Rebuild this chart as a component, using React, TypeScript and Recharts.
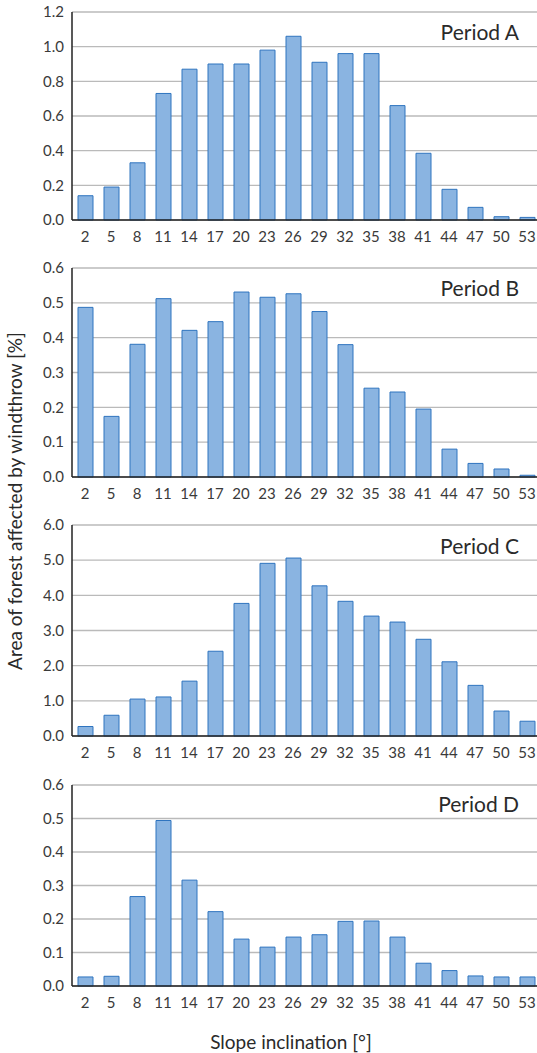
import React from "react";
import { BarChart, Bar, XAxis, YAxis, CartesianGrid } from "recharts";

const slopes = [2, 5, 8, 11, 14, 17, 20, 23, 26, 29, 32, 35, 38, 41, 44, 47, 50, 53];

const periodA = [0.14, 0.19, 0.33, 0.73, 0.87, 0.9, 0.9, 0.98, 1.06, 0.91, 0.96, 0.96, 0.66, 0.385, 0.177, 0.073, 0.019, 0.015];
const periodB = [0.487, 0.174, 0.381, 0.512, 0.421, 0.446, 0.531, 0.516, 0.526, 0.475, 0.38, 0.255, 0.244, 0.195, 0.08, 0.039, 0.023, 0.005];
const periodC = [0.27, 0.59, 1.05, 1.11, 1.56, 2.41, 3.77, 4.91, 5.06, 4.27, 3.83, 3.41, 3.24, 2.75, 2.11, 1.44, 0.71, 0.42];
const periodD = [0.027, 0.029, 0.267, 0.494, 0.316, 0.222, 0.14, 0.116, 0.146, 0.153, 0.193, 0.194, 0.146, 0.068, 0.046, 0.03, 0.027, 0.027];

const ticksA = [0, 0.2, 0.4, 0.6, 0.8, 1.0, 1.2];
const ticksB = [0, 0.1, 0.2, 0.3, 0.4, 0.5, 0.6];
const ticksC = [0, 1, 2, 3, 4, 5, 6];
const ticksD = [0, 0.1, 0.2, 0.3, 0.4, 0.5, 0.6];

const FONT = "Lato, 'Open Sans', sans-serif";

const panels = [
  { name: "Period A", values: periodA, ticks: ticksA, plotTop: 12, plotBottom: 220, labelY: 32 },
  { name: "Period B", values: periodB, ticks: ticksB, plotTop: 268, plotBottom: 477, labelY: 288 },
  { name: "Period C", values: periodC, ticks: ticksC, plotTop: 525, plotBottom: 736, labelY: 546 },
  { name: "Period D", values: periodD, ticks: ticksD, plotTop: 785, plotBottom: 986, labelY: 804 },
];

const Panel = ({ p }: { p: (typeof panels)[number] }) => {
  const data = slopes.map((s, i) => ({ slope: s, value: p.values[i] }));
  const top = p.plotTop - 12;
  const height = p.plotBottom - p.plotTop + 12 + 30;
  const max = p.ticks[p.ticks.length - 1];
  return (
    <>
      <div style={{ position: "absolute", left: 0, top }}>
        <BarChart
          width={540}
          height={height}
          data={data}
          margin={{ top: 12, right: 0, bottom: 0, left: 0 }}
          barCategoryGap={0}
        >
          <CartesianGrid vertical={false} stroke="#bababa" strokeWidth={1.3} />
          <XAxis
            dataKey="slope"
            interval={0}
            height={30}
            tickLine={false}
            tickSize={6}
            tickMargin={5}
            tick={{ fontSize: 15, fill: "#3a3a3a", fontFamily: FONT }}
            axisLine={{ stroke: "#222", strokeWidth: 1.5 }}
          />
          <YAxis
            width={72}
            domain={[0, max]}
            ticks={p.ticks}
            interval={0}
            tickFormatter={(v: number) => v.toFixed(1)}
            tickLine={false}
            tick={{ fontSize: 15, fill: "#3a3a3a", fontFamily: FONT }}
            axisLine={{ stroke: "#222", strokeWidth: 1.5 }}
          />
          <Bar
            dataKey="value"
            barSize={15}
            fill="#8ab4e1"
            stroke="#2f74bf"
            strokeWidth={1}
            isAnimationActive={false}
          />
        </BarChart>
      </div>
      <div
        style={{
          position: "absolute",
          right: 18,
          top: p.labelY - 12,
          fontSize: 21,
          lineHeight: "24px",
          color: "#2a2a2a",
          fontFamily: FONT,
        }}
      >
        {p.name}
      </div>
    </>
  );
};

export default function App() {
  return (
    <div
      style={{
        position: "absolute",
        left: 0,
        top: 0,
        width: 537,
        height: 1053,
        overflow: "hidden",
        background: "#fff",
        fontFamily: FONT,
      }}
    >
      {panels.map((p) => (
        <Panel key={p.name} p={p} />
      ))}
      <div
        style={{
          position: "absolute",
          left: 15 - 200,
          top: 501 - 12,
          width: 400,
          height: 24,
          lineHeight: "24px",
          textAlign: "center",
          transform: "rotate(-90deg)",
          fontSize: 19,
          color: "#2a2a2a",
        }}
      >
        Area of forest affected by windthrow [%]
      </div>
      <div
        style={{
          position: "absolute",
          left: 291 - 150,
          top: 1042 - 12,
          width: 300,
          lineHeight: "24px",
          textAlign: "center",
          fontSize: 19,
          color: "#2a2a2a",
        }}
      >
        Slope inclination [°]
      </div>
    </div>
  );
}
